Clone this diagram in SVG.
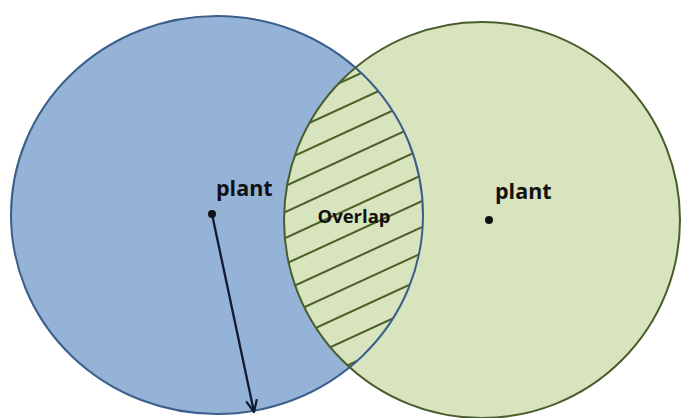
<svg xmlns="http://www.w3.org/2000/svg" width="688" height="418" viewBox="0 0 688 418">
  <style>
    .lbl { font-family: "Open Sans", "Liberation Sans", sans-serif; font-weight: bold; fill: #111111; }
    .hatch { stroke: #4b5f26; stroke-width: 2; }
    .dot { fill: #111111; }
  </style>
  <defs>
    <clipPath id="clipLeft"><ellipse cx="217" cy="215" rx="206" ry="199"/></clipPath>
    <clipPath id="clipRight"><circle cx="482" cy="220" r="198"/></clipPath>
    <marker id="arrowHead" viewBox="0 0 14 14" refX="13" refY="7" markerWidth="14" markerHeight="14" markerUnits="userSpaceOnUse" orient="auto">
      <polyline points="1,1.5 13,7 1,12.5" fill="none" stroke="#111a2e" stroke-width="2.2"/>
    </marker>
  </defs>
  <rect width="688" height="418" fill="#ffffff"/>

  <g id="circle-left">
    <ellipse cx="217" cy="215" rx="206" ry="199" fill="#95b3d7"/>
  </g>
  <g id="circle-right">
    <circle cx="482" cy="220" r="198" fill="#d7e4bd"/>
  </g>

  <g id="overlap">
    <g clip-path="url(#clipLeft)">
      <g clip-path="url(#clipRight)">
        <line class="hatch" x1="270" y1="115" x2="440" y2="36.8"/>
        <line class="hatch" x1="270" y1="141" x2="440" y2="62.8"/>
        <line class="hatch" x1="270" y1="167" x2="440" y2="88.8"/>
        <line class="hatch" x1="270" y1="193" x2="440" y2="114.8"/>
        <line class="hatch" x1="270" y1="219" x2="440" y2="140.8"/>
        <line class="hatch" x1="270" y1="245" x2="440" y2="166.8"/>
        <line class="hatch" x1="270" y1="271" x2="440" y2="192.8"/>
        <line class="hatch" x1="270" y1="297" x2="440" y2="218.8"/>
        <line class="hatch" x1="270" y1="323" x2="440" y2="244.8"/>
        <line class="hatch" x1="270" y1="349" x2="440" y2="270.8"/>
        <line class="hatch" x1="270" y1="375" x2="440" y2="296.8"/>
        <line class="hatch" x1="270" y1="401" x2="440" y2="322.8"/>
      </g>
    </g>
    <text class="lbl" x="354" y="223" font-size="18.5" text-anchor="middle">Overlap</text>
  </g>

  <g id="outlines">
    <ellipse cx="217" cy="215" rx="206" ry="199" fill="none" stroke="#3a5f8b" stroke-width="2"/>
    <circle cx="482" cy="220" r="198" fill="none" stroke="#4a5d2c" stroke-width="2"/>
  </g>

  <g id="plant-left">
    <circle class="dot" cx="212" cy="214" r="4"/>
    <text class="lbl" x="216" y="196" font-size="21.5">plant</text>
  </g>
  <g id="plant-right">
    <circle class="dot" cx="489" cy="220" r="4"/>
    <text class="lbl" x="495" y="199" font-size="21.5">plant</text>
  </g>

  <g id="connectors">
    <line x1="212" y1="214" x2="254" y2="412" stroke="#111a2e" stroke-width="2.3" marker-end="url(#arrowHead)"/>
  </g>
</svg>
